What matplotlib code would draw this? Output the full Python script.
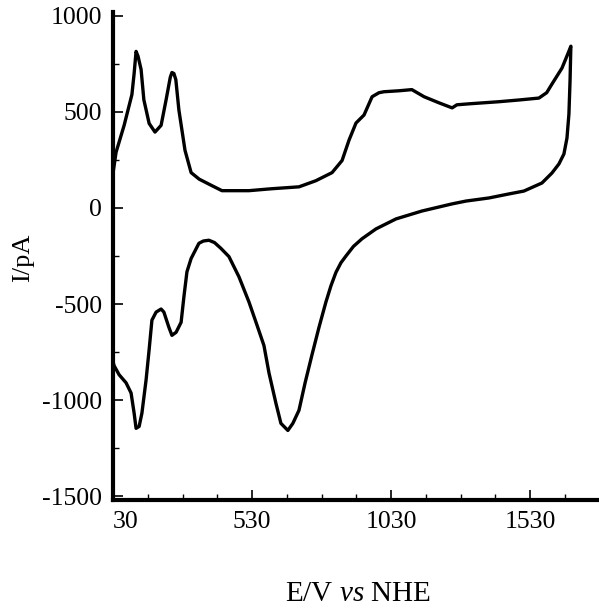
import numpy as np
import matplotlib
matplotlib.use("Agg")
import matplotlib.pyplot as plt
from matplotlib.ticker import FixedLocator

# Anodic (forward) scan: potential (mV vs NHE) and current (pA)
E_fwd = [30, 41, 70, 98, 106, 113, 120, 131, 141, 160, 181, 203, 221, 236, 242,
         249, 256, 267, 289, 311, 340, 386, 422, 519, 600, 699, 760, 818, 854,
         879, 904, 933, 962, 987, 1005, 1059, 1105, 1149, 1203, 1250, 1267,
         1310, 1418, 1490, 1562, 1590, 1609, 1645, 1670, 1677]
I_fwd = [180, 290, 430, 590, 700, 815, 790, 721, 563, 440, 395, 430, 563, 680,
         705, 700, 668, 510, 300, 184, 150, 116, 90, 90, 100, 110, 142, 184,
         247, 353, 442, 484, 579, 600, 605, 610, 616, 579, 547, 521, 537, 542,
         553, 562, 572, 600, 645, 728, 816, 842]

# Cathodic (reverse) scan
E_rev = [1674, 1670, 1663, 1652, 1634, 1609, 1573, 1508, 1454, 1382, 1300, 1249,
         1141, 1048, 976, 926, 895, 868, 850, 832, 814, 796, 771, 746, 721, 699,
         677, 659, 634, 616, 591, 573, 548, 519, 483, 447, 418, 395, 375, 355,
         339, 311, 296, 285, 275, 257, 242, 231, 213, 203, 185, 170, 160, 149,
         134, 124, 113, 106, 95, 77, 52, 34, 30, 30]
I_rev = [660, 489, 364, 281, 229, 182, 130, 88, 73, 52, 36, 21, -16, -57,
         -109, -160, -200, -250, -285, -335, -405, -489, -621, -763, -910,
         -1053, -1121, -1158, -1121, -1016, -858, -716, -610, -489, -358, -253,
         -210, -180, -168, -172, -184, -263, -332, -463, -595, -647, -663,
         -621, -542, -526, -542, -584, -737, -895, -1068, -1137, -1147, -1068,
         -963, -910, -868, -821, -800, 180]

x_major = [30, 530, 1030, 1530]
x_labels = ["30", "530", "1030", "1530"]
y_major = [-1500, -1000, -500, 0, 500, 1000]
y_labels = ["-1500", "-1000", "-500", "0", "500", "1000"]

plt.rcParams['font.family'] = ['Liberation Serif', 'DejaVu Serif']
plt.rcParams['mathtext.fontset'] = 'custom'
plt.rcParams['mathtext.rm'] = 'Liberation Serif'
plt.rcParams['mathtext.it'] = 'Liberation Serif:italic'

fig = plt.figure(figsize=(5.99, 6.08), dpi=100)
ax = fig.add_axes([113/599, 1 - 500/608, 1.0 - 113/599, (500 - 12)/608])

E = E_fwd + E_rev
I = I_fwd + I_rev
ax.plot(E, I, color='black', lw=2.4, solid_joinstyle='round', clip_on=False)

ax.set_xlim(30, 30 + 486 / 139 * 500)
ax.set_ylim(-1520, 1020)

for s in ['top', 'right']:
    ax.spines[s].set_visible(False)
for s in ['left', 'bottom']:
    ax.spines[s].set_linewidth(3)

ax.xaxis.set_major_locator(FixedLocator(x_major))
ax.set_xticklabels(x_labels)
ax.xaxis.set_minor_locator(FixedLocator(list(np.arange(30, 1800, 125))))
ax.yaxis.set_major_locator(FixedLocator(y_major))
ax.set_yticklabels(y_labels)
ax.yaxis.set_minor_locator(FixedLocator(list(np.arange(-1250, 1000, 500))))

ax.tick_params(which='major', direction='in', length=7, width=1.2,
               labelsize=18.5, pad=8)
ax.tick_params(which='minor', direction='in', length=4, width=1.0)
ax.tick_params(axis='y', pad=8)

ax.get_xticklabels()[0].set_horizontalalignment('left')

fig.text(23/599, 1 - 258/608, "I/pA", rotation=90, ha='center', va='center',
         fontsize=19)
fig.text(358/599, 1 - 594/608, r"E/V $\mathit{vs}$ NHE", ha='center',
         va='center', fontsize=21)

fig.savefig("out.png", dpi=100)
